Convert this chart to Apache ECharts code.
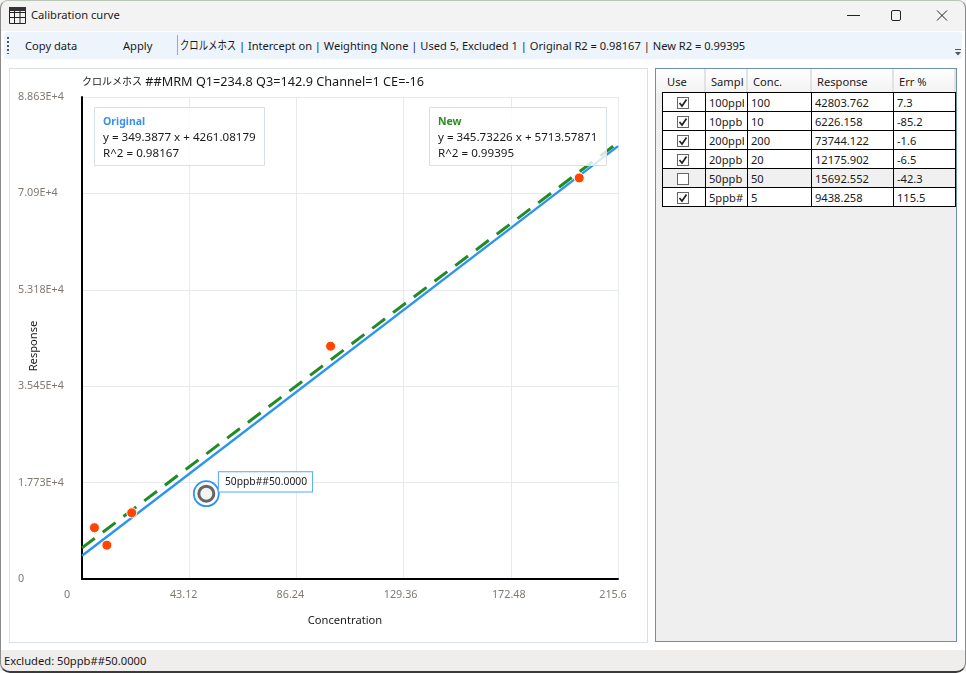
<!DOCTYPE html>
<html><head><meta charset="utf-8">
<script src="https://cdn.jsdelivr.net/npm/echarts@6/dist/echarts.min.js"></script>
<style>
*{box-sizing:border-box}
html,body{margin:0;padding:0;width:966px;height:673px;overflow:hidden;background:#fff;font-family:"Noto Sans","Noto Sans CJK JP",sans-serif;font-size:11.15px;color:#1a1a1a}
.abs{position:absolute;white-space:nowrap}
.jp{display:inline-block;width:56px;font-size:12px;line-height:12px;transform:scaleX(0.78);transform-origin:left center;white-space:nowrap}
#titlebar{left:0;top:0;width:966px;height:31px;background:#f3f3f3}
#toolbar{left:4px;top:32px;width:958px;height:27px;background:#edf4fc;border-radius:3px}
#panel{left:9px;top:68px;width:639px;height:575px;border:1px solid #dbe0e6;background:#fff}
#chart{left:0;top:0;width:966px;height:673px}
#gridbox{left:655px;top:68px;width:302px;height:574px;background:#efefef;border:1px solid #6f8fae}
#status{left:0;top:650px;width:966px;height:21px;background:#f0eded;padding:3px 4px;font-size:11.2px}
#frame{left:0;top:0;width:966px;height:673px;border:1px solid #8a8a8a;border-top-color:#bcc6b8;border-bottom:2px solid #3a3a3a;border-radius:8px 8px 10px 10px;pointer-events:none}
#hdr{position:absolute;left:656px;top:69px;width:300px;height:24px;background:linear-gradient(#ffffff,#f2f2f2)}
.hc{position:absolute;top:69px;height:23px;line-height:25px;border-right:2px solid #e2e2e2;overflow:hidden;white-space:nowrap}
.cell{position:absolute;height:20px;border:1px solid #000;background:#fff;line-height:19px;padding-left:3px;overflow:hidden;white-space:nowrap}
.clip{display:block;overflow:hidden}
.excl{background:#f0f0f0}
.cb{position:absolute;width:12px;height:12px;border:1px solid #666;background:#fff}
</style></head><body>
<div id="titlebar" class="abs"></div>
<svg class="abs" style="left:9px;top:7px" width="17" height="17"><path d="M0.5 0.5H16.5V16.5H0.5Z M0.5 5.5H16.5 M0.5 10.5H16.5 M5.5 0.5V16.5 M11 0.5V16.5" fill="none" stroke="#222"/><rect x="0" y="0" width="17" height="4" fill="#333"/></svg>
<div class="abs" style="left:31px;top:7px">Calibration curve</div>
<svg class="abs" style="left:840px;top:5px" width="120" height="22"><path d="M7 10.5H20" stroke="#222"/><rect x="51.5" y="5.5" width="9" height="10" rx="1.5" fill="none" stroke="#222"/><path d="M97 5.5L107 15.5M107 5.5L97 15.5" stroke="#222"/></svg>
<div id="toolbar" class="abs"></div>
<svg class="abs" style="left:6px;top:36px" width="4" height="20"><path d="M2 1V18" stroke="#555" stroke-width="2" stroke-dasharray="2 2"/></svg>
<div class="abs" style="left:25px;top:38px">Copy data</div>
<div class="abs" style="left:123px;top:38px">Apply</div>
<div class="abs" style="left:177px;top:35px;width:1px;height:20px;background:#a0a8b0"></div>
<div class="abs" style="left:180px;top:38px;font-size:11.1px" id="summary"></div>
<svg class="abs" style="left:954px;top:48px" width="8" height="9"><path d="M1 1.5H7" stroke="#555"/><path d="M1 4H7L4 7.5Z" fill="#555"/></svg>
<div id="panel" class="abs"></div>
<div id="chart" class="abs"></div>
<div id="gridbox" class="abs"></div>
<div id="hdr"></div>
<div id="table"></div>
<div id="status" class="abs"></div>
<div id="frame" class="abs"></div>
<script>
// ---- data ----
const sampleNames = ['100ppb','10ppb','200ppb','20ppb','50ppb','5ppb#'];
const useFlags = [true,true,true,true,false,true];
const concentrations = [100,10,200,20,50,5];
const responses = [42803.762,6226.158,73744.122,12175.902,15692.552,9438.258];
const errPercent = ['7.3','-85.2','-1.6','-6.5','-42.3','115.5'];
const tableHeaders = ['Use','Sample','Conc.','Response','Err %'];
const xTickLabels = ['0','43.12','86.24','129.36','172.48','215.6'];
const yTickLabels = ['0','1.773E+4','3.545E+4','5.318E+4','7.09E+4','8.863E+4'];
const xMax = 215.6, xStep = 43.12, yMax = 88630, yStep = 17726;
const originalLineX = [0,215.6];
const originalLineY = [4261.08,79589.2];
const newLineX = [0,215.6];
const newLineY = [5713.58,80253.4];
const compoundName = 'クロルメホス';
const chartTitleRest = ' ##MRM Q1=234.8 Q3=142.9 Channel=1 CE=-16';
const summaryRest = ' | Intercept on | Weighting None | Used 5, Excluded 1 | Original R2 = 0.98167 | New R2 = 0.99395';
const statusText = 'Excluded: 50ppb##50.0000';
const excludedLabel = '50ppb##50.0000';
const originalEq = ['y = 349.3877 x + 4261.08179','R^2 = 0.98167'];
const newEq = ['y = 345.73226 x + 5713.57871','R^2 = 0.99395'];

document.getElementById('summary').innerHTML = '<span class="jp">'+compoundName+'</span>'+summaryRest;
document.getElementById('status').textContent = statusText;

// ---- table ----
const colX = [662,705,747,811,893,955];
const hdrX = [658,706,748,812,894];
const hdrPad = [9,5,5,5,5];
const t = document.getElementById('table');
let html = '';
tableHeaders.forEach((h,i)=>{
  const w = (i<4?hdrX[i+1]:956)-hdrX[i];
  html += `<div class="hc" style="left:${hdrX[i]}px;width:${w}px;padding-left:${hdrPad[i]}px"><span class="clip" style="width:${i==1?33:w-hdrPad[i]-2}px">${h}</span></div>`;
});
sampleNames.forEach((n,r)=>{
  const y = 92+r*19;
  const vals = ['',n,String(concentrations[r]),responses[r].toFixed(3),errPercent[r]];
  vals.forEach((v,c)=>{
    const inner = c==1 ? `<span class="clip" style="width:35px">${v}</span>` : v;
    html += `<div class="cell${useFlags[r]?'':' excl'}" style="left:${colX[c]}px;top:${y}px;width:${colX[c+1]-colX[c]+1}px">${inner}</div>`;
  });
  const cbx = 677, cby = y+5;
  html += `<div class="cb" style="left:${cbx}px;top:${cby}px"></div>`;
  if(useFlags[r]) html += `<svg class="abs" style="left:${cbx}px;top:${cby}px" width="12" height="12"><path d="M2.5 6L5 9L9.5 2.5" fill="none" stroke="#222" stroke-width="1.7"/></svg>`;
});
t.innerHTML = html;

// ---- chart ----
const usedPts = [], exclPts = [];
concentrations.forEach((c,i)=>{(useFlags[i]?usedPts:exclPts).push([c,responses[i]]);});
const chart = echarts.init(document.getElementById('chart'),null,{renderer:'canvas',width:966,height:673});
const FF = '"Noto Sans","Noto Sans CJK JP",sans-serif';
const TC = '#1a1a1a';
function box(left,head,color,lines){
  return {left,top:104,padding:[10,9,6,9],backgroundColor:'rgba(255,255,255,0.82)',borderColor:'#d9dfe6',borderWidth:1,z:20,
    text:`{h|${head}}\n{b|${lines[0]}}\n{b|${lines[1]}}`,
    textStyle:{fontWeight:'normal',rich:{h:{fontFamily:FF,fontSize:10.5,fontWeight:'bold',color,lineHeight:16},b:{fontFamily:FF,fontSize:11.6,fontWeight:'normal',color:TC,lineHeight:16}}}};
}
chart.setOption({
  animation:false,
  backgroundColor:'transparent',
  title:[
    {text:`{j|${compoundName}}{r|${chartTitleRest}}`,left:82,top:76,padding:0,
     textStyle:{fontWeight:'normal',rich:{j:{fontFamily:FF,fontSize:10,color:TC},r:{fontFamily:FF,fontSize:12.7,color:TC}}}},
    box(94,'Original','#3a8ff0',originalEq),
    box(429,'New','#2e8b22',newEq)
  ],
  grid:{left:82,top:97,right:348,bottom:94,outerBoundsMode:'none'},
  xAxis:{type:'value',min:0,max:xMax,interval:xStep,name:'Concentration',nameLocation:'middle',nameGap:36,nameMoveOverlap:false,
    nameTextStyle:{fontFamily:FF,fontSize:11.15,color:TC,padding:[0,10,0,0]},
    axisLine:{show:true,onZero:false,lineStyle:{color:'#000',width:2}},axisTick:{show:false},
    splitLine:{show:true,lineStyle:{color:'#e6eaef',width:1}},
    axisLabel:{margin:11,color:'#807a72',fontFamily:FF,fontSize:10.8,showMaxLabel:true,showMinLabel:true,hideOverlap:false,
      formatter:(v)=>{const i=Math.round(v/xStep);return `{s${i}|${xTickLabels[i]}}`;},
      rich:{s0:{padding:[0,30,0,0]},s1:{padding:[0,11,0,0]},s2:{padding:[0,12,0,0]},s3:{padding:[0,6,0,0]},s4:{padding:[0,4,0,0]},s5:{padding:[0,10,0,0]}}}},
  yAxis:{type:'value',min:0,max:yMax,interval:yStep,name:'Response',nameLocation:'middle',nameGap:43,nameMoveOverlap:false,
    nameTextStyle:{fontFamily:FF,fontSize:11.15,color:TC,padding:[0,16,0,0]},
    axisLine:{show:true,onZero:false,lineStyle:{color:'#000',width:2}},axisTick:{show:false},
    splitLine:{show:true,lineStyle:{color:'#e6eaef',width:1}},
    axisLabel:{margin:64,align:'left',color:'#807a72',fontFamily:FF,fontSize:10.8,showMaxLabel:true,showMinLabel:true,
      formatter:(v)=>yTickLabels[Math.round(v/yStep)]}},
  series:[
    {name:'New',type:'line',symbol:'none',z:3,data:newLineX.map((x,i)=>[x,newLineY[i]]),lineStyle:{color:'#228b22',width:3,type:[16,10]}},
    {name:'Original',type:'line',symbol:'none',z:4,data:originalLineX.map((x,i)=>[x,originalLineY[i]]),lineStyle:{color:'#2a93f5',width:2.4}},
    {name:'Used',type:'scatter',z:6,symbolSize:10,data:usedPts,itemStyle:{opacity:1,color:'#ff4500',borderColor:'#fff',borderWidth:1}},
    {name:'ExcludedRing',type:'scatter',z:6,symbolSize:25,data:exclPts,itemStyle:{opacity:1,color:'#fff',borderColor:'#2a93f5',borderWidth:1.8},
      label:{show:true,formatter:()=>excludedLabel,position:[26,-8],align:'left',verticalAlign:'top',padding:[5,5,4,6],backgroundColor:'#fff',borderColor:'#55a8f5',borderWidth:1,fontFamily:FF,fontSize:10.3,color:TC}},
    {name:'Excluded',type:'scatter',z:7,symbolSize:15,data:exclPts,itemStyle:{opacity:1,color:'#f3f3f3',borderColor:'#666',borderWidth:3}}
  ]
});
</script>
</body></html>
